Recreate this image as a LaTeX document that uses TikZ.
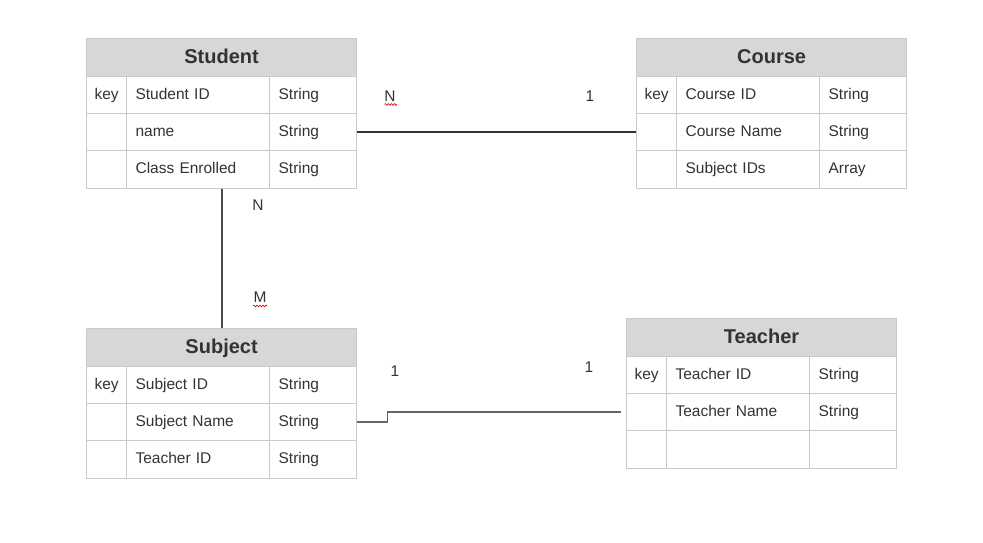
\documentclass[tikz,border=0pt]{standalone}
\usepackage{fontspec}
\setmainfont{Liberation Sans}
\usetikzlibrary{decorations.pathmorphing}
\definecolor{hdrgray}{HTML}{D7D7D7}
\definecolor{bordergray}{HTML}{CACACA}
\definecolor{txt}{HTML}{333333}
\begin{document}
\begin{tikzpicture}[x=1pt,y=1pt,
  base/.style={draw=bordergray, line width=1.2pt, anchor=north west, inner ysep=0pt, minimum height=37pt, text=txt, font=\fontsize{15.5}{18}\selectfont, align=left, text height=11.5pt, text depth=3.5pt},
  hdr/.style={draw=bordergray, line width=1.2pt, anchor=north west, fill=hdrgray, inner sep=0pt, minimum width=270pt, minimum height=38pt, text=txt, font=\fontsize{20}{24}\selectfont\bfseries, text height=15pt, text depth=3pt},
  kcell/.style={base, inner xsep=8pt, text width=24pt},
  ncell/.style={base, inner xsep=9pt, text width=125pt},
  tcell/.style={base, inner xsep=9pt, text width=69pt},
  conn/.style={draw=#1, line width=1.4pt},
  lbl/.style={text=txt, font=\fontsize{15.5}{18}\selectfont, inner sep=0pt},
  squig/.style={draw=red!80!black, line width=0.6pt, decorate, decoration={snake, amplitude=0.9pt, segment length=3pt}}
]
\useasboundingbox (0,0) rectangle (983,-542);
\fill[white] (0,0) rectangle (983,-542);

% Student
\node[hdr] (st) at (86,-38) {Student};
\node[kcell] (st1k) at (86,-76) {key};
\node[ncell] (st1n) at (126,-76) {Student ID};
\node[tcell] (st1t) at (269,-76) {String};
\node[kcell] (st2k) at (86,-113) {};
\node[ncell] (st2n) at (126,-113) {name};
\node[tcell] (st2t) at (269,-113) {String};
\node[kcell, minimum height=38pt] (st3k) at (86,-150) {};
\node[ncell, minimum height=38pt] (st3n) at (126,-150) {Class Enrolled};
\node[tcell, minimum height=38pt] (st3t) at (269,-150) {String};

% Course
\node[hdr] (co) at (636,-38) {Course};
\node[kcell] (co1k) at (636,-76) {key};
\node[ncell] (co1n) at (676,-76) {Course ID};
\node[tcell] (co1t) at (819,-76) {String};
\node[kcell] (co2k) at (636,-113) {};
\node[ncell] (co2n) at (676,-113) {Course Name};
\node[tcell] (co2t) at (819,-113) {String};
\node[kcell, minimum height=38pt] (co3k) at (636,-150) {};
\node[ncell, minimum height=38pt] (co3n) at (676,-150) {Subject IDs};
\node[tcell, minimum height=38pt] (co3t) at (819,-150) {Array};

% Subject
\node[hdr] (su) at (86,-328) {Subject};
\node[kcell] (su1k) at (86,-366) {key};
\node[ncell] (su1n) at (126,-366) {Subject ID};
\node[tcell] (su1t) at (269,-366) {String};
\node[kcell] (su2k) at (86,-403) {};
\node[ncell] (su2n) at (126,-403) {Subject Name};
\node[tcell] (su2t) at (269,-403) {String};
\node[kcell, minimum height=38pt] (su3k) at (86,-440) {};
\node[ncell, minimum height=38pt] (su3n) at (126,-440) {Teacher ID};
\node[tcell, minimum height=38pt] (su3t) at (269,-440) {String};

% Teacher
\node[hdr] (te) at (626,-318) {Teacher};
\node[kcell] (te1k) at (626,-356) {key};
\node[ncell] (te1n) at (666,-356) {Teacher ID};
\node[tcell] (te1t) at (809,-356) {String};
\node[kcell] (te2k) at (626,-393) {};
\node[ncell] (te2n) at (666,-393) {Teacher Name};
\node[tcell] (te2t) at (809,-393) {String};
\node[kcell, minimum height=38pt] (te3k) at (626,-430) {};
\node[ncell, minimum height=38pt] (te3n) at (666,-430) {};
\node[tcell, minimum height=38pt] (te3t) at (809,-430) {};

% Connectors
\draw[conn={txt}] (st2t.east) -- (co2k.west);
\draw[conn={black!70}, line width=1.8pt] (su.north |- st3n.south) -- (su.north);
\draw[conn={black!60}, shorten >=5pt] (su2t.east) -- ++(30,0) |- (te2k.west);

% Labels
\node[lbl] (l1) at (390,-96) {N};
\draw[squig] (384.5,-104.5) -- (397,-104.5);
\node[lbl] (l2) at (590,-96) {1};
\node[lbl] (l3) at (258,-205) {N};
\node[lbl] (l4) at (260,-297) {M};
\draw[squig] (253,-306) -- (267,-306);
\node[lbl] (l5) at (395,-371) {1};
\node[lbl] (l6) at (589,-367) {1};
\end{tikzpicture}
\end{document}
